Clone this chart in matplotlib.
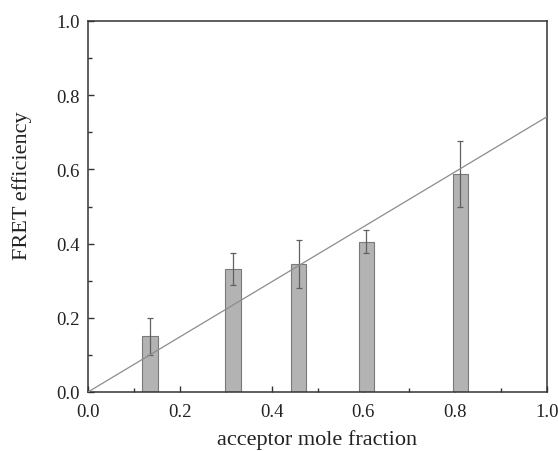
import matplotlib as mpl
mpl.use('Agg')
import matplotlib.pyplot as plt
from matplotlib.ticker import MultipleLocator, FormatStrFormatter
from matplotlib import rcParams

rcParams['font.family'] = ['Liberation Serif', 'DejaVu Serif']

# data
fraction = [0.135, 0.316, 0.459, 0.606, 0.811]
efficiency = [0.150, 0.332, 0.345, 0.405, 0.587]
error = [0.050, 0.044, 0.066, 0.031, 0.089]
fit_x = [0.0, 1.0]
fit_y = [0.0, 0.742]

fig = plt.figure(figsize=(5.58, 4.52), dpi=100)
ax = fig.add_axes([88/558, 1 - 393/452, 459/558, 371/452])

ax.bar(fraction, efficiency, width=0.033, color='#b3b3b3', edgecolor='#7a7a7a',
       linewidth=0.8, zorder=2)
ax.errorbar(fraction, efficiency, yerr=error, fmt='none', ecolor='#606060',
            elinewidth=0.9, capsize=2.5, capthick=0.9, zorder=3)
ax.plot(fit_x, fit_y, color='#8c8c8c', linewidth=0.9, zorder=4)

ax.set_xlim(0, 1)
ax.set_ylim(0, 1)
ax.xaxis.set_major_locator(MultipleLocator(0.2))
ax.xaxis.set_minor_locator(MultipleLocator(0.1))
ax.yaxis.set_major_locator(MultipleLocator(0.2))
ax.yaxis.set_minor_locator(MultipleLocator(0.1))
ax.xaxis.set_major_formatter(FormatStrFormatter('%.1f'))
ax.yaxis.set_major_formatter(FormatStrFormatter('%.1f'))
ax.tick_params(which='both', direction='in', top=False, right=False,
               width=1.0, color='#333333', labelsize=13.5, labelcolor='#222222')
ax.tick_params(axis='x', which='major', length=4, pad=8)
ax.tick_params(axis='y', which='major', length=4, pad=6)
ax.tick_params(which='minor', length=3)
for s in ax.spines.values():
    s.set_linewidth(1.1)
    s.set_color('#333333')

ax.set_xlabel('acceptor mole fraction', fontsize=16, color='#222222', va='center')
ax.set_ylabel('FRET efficiency', fontsize=16, color='#222222', va='center')
ax.xaxis.set_label_coords(0.5, -0.127)
ax.yaxis.set_label_coords(-0.144, 0.558)

plt.savefig('out.png', dpi=100)
